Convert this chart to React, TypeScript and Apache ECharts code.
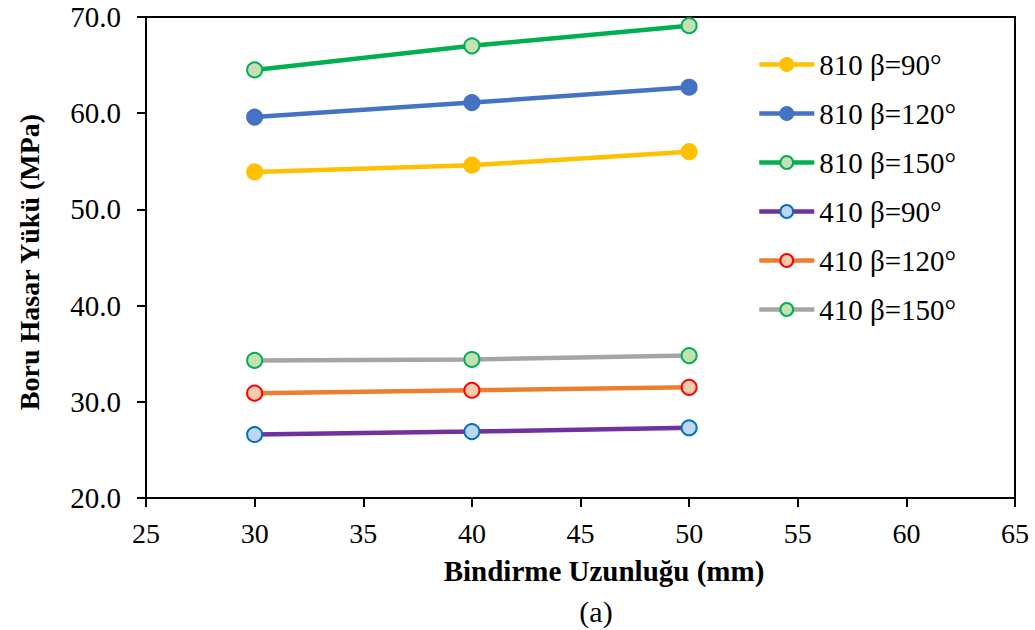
import React, { useEffect, useRef } from "react";
import * as echarts from "echarts";

const xValues = [30, 40, 50];
const s810_90 = [53.9, 54.6, 56.0];
const s810_120 = [59.6, 61.1, 62.7];
const s810_150 = [64.5, 67.0, 69.1];
const s410_90 = [26.6, 26.9, 27.3];
const s410_120 = [30.9, 31.2, 31.5];
const s410_150 = [34.3, 34.4, 34.8];

const seriesNames = ["810 β=90°", "810 β=120°", "810 β=150°", "410 β=90°", "410 β=120°", "410 β=150°"];
const lineColors = ["#FFC000", "#4472C4", "#00B050", "#7030A0", "#ED7D31", "#A5A5A5"];
const markerFills = ["#FFC000", "#4472C4", "#C5E0B4", "#BDD7EE", "#F8CBAD", "#C5E0B4"];
const markerBorders = ["#FFC000", "#4472C4", "#00B050", "#0070C0", "#FF0000", "#00B050"];
const allData = [s810_90, s810_120, s810_150, s410_90, s410_120, s410_150];

const FONT = "'Liberation Serif', 'Times New Roman', serif";

export default function App() {
  const ref = useRef<HTMLDivElement>(null);
  useEffect(() => {
    if (!ref.current) return;
    const chart = echarts.init(ref.current, null, { renderer: "svg" });
    chart.setOption({
      animation: false,
      backgroundColor: "#fff",
      textStyle: { fontFamily: FONT },
      grid: {
        left: 146,
        top: 17,
        right: 20,
        bottom: 132,
        show: true,
        borderColor: "#000",
        borderWidth: 2,
      },
      xAxis: {
        type: "value",
        min: 25,
        max: 65,
        interval: 5,
        axisLine: { show: true, onZero: false, lineStyle: { color: "#000", width: 2 } },
        axisTick: { show: true, inside: false, length: 9, lineStyle: { color: "#000", width: 2 } },
        axisLabel: { color: "#000", fontSize: 28, fontFamily: FONT, margin: 21 },
        splitLine: { show: false },
      },
      yAxis: {
        type: "value",
        min: 20,
        max: 70,
        interval: 10,
        axisLine: { show: true, lineStyle: { color: "#000", width: 2 } },
        axisTick: { show: true, inside: false, length: 9, lineStyle: { color: "#000", width: 2 } },
        axisLabel: {
          color: "#000",
          fontSize: 29,
          fontFamily: FONT,
          margin: 25,
          formatter: (v: number) => v.toFixed(1),
        },
        splitLine: { show: false },
      },
      legend: {
        orient: "vertical",
        left: 757,
        top: 50,
        padding: 0,
        itemWidth: 55,
        itemHeight: 16,
        itemGap: 20,
        lineStyle: { width: 4.5 },
        textStyle: { fontSize: 29, fontFamily: FONT, color: "#000" },
        data: seriesNames,
      },
      series: seriesNames.map((name, i) => ({
        name,
        type: "line",
        data: xValues.map((x, j) => [x, allData[i][j]]),
        symbol: "circle",
        symbolSize: 15,
        lineStyle: { color: lineColors[i], width: 4.5 },
        itemStyle: { color: markerFills[i], borderColor: markerBorders[i], borderWidth: 2 },
        emphasis: { disabled: true },
      })),
      graphic: [
        {
          type: "text",
          x: 29,
          y: 262,
          rotation: Math.PI / 2,
          style: {
            text: "Boru Hasar Yükü (MPa)",
            font: `bold 28px ${FONT}`,
            fill: "#000",
            align: "center",
            verticalAlign: "middle",
          },
        },
        {
          type: "text",
          x: 604,
          y: 571,
          style: {
            text: "Bindirme Uzunluğu (mm)",
            font: `bold 29px ${FONT}`,
            fill: "#000",
            align: "center",
            verticalAlign: "middle",
          },
        },
        {
          type: "text",
          x: 596,
          y: 611,
          style: {
            text: "(a)",
            font: `30px ${FONT}`,
            fill: "#000",
            align: "center",
            verticalAlign: "middle",
          },
        },
      ],
    });
    return () => chart.dispose();
  }, []);
  return (
    <div
      ref={ref}
      style={{ position: "absolute", left: 0, top: 0, width: 1035, height: 630 }}
    />
  );
}
